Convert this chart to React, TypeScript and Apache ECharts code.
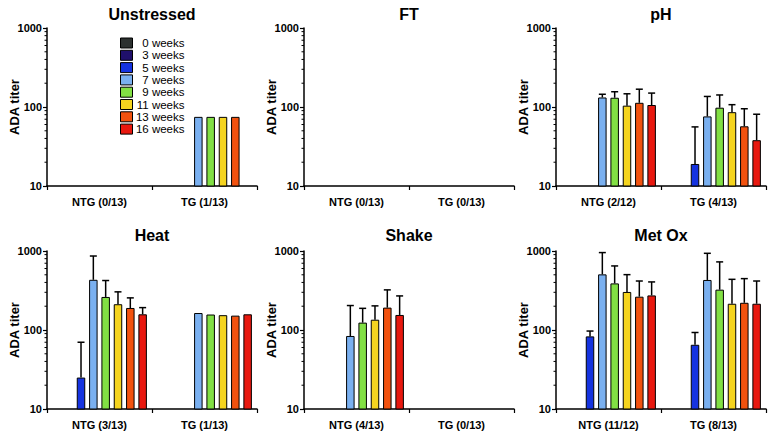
import React, { useEffect, useRef } from "react";
import * as echarts from "echarts";

const WEEKS = ["0 weeks", "3 weeks", "5 weeks", "7 weeks", "9 weeks", "11 weeks", "13 weeks", "16 weeks"];
const COLORS = ["#2b302f", "#1f106b", "#1533e0", "#7ab0f0", "#82e044", "#f5d41f", "#f2520f", "#e8180f"];

const TITLES = ["Unstressed", "FT", "pH", "Heat", "Shake", "Met Ox"];
const CATEGORIES = [
  ["NTG (0/13)", "TG (1/13)"],
  ["NTG (0/13)", "TG (0/13)"],
  ["NTG (2/12)", "TG (4/13)"],
  ["NTG (3/13)", "TG (1/13)"],
  ["NTG (4/13)", "TG (0/13)"],
  ["NTG (11/12)", "TG (8/13)"],
];

type V = number | null;
// rows = weeks (0,3,5,7,9,11,13,16), columns = [NTG, TG]
const unstressedMean: V[][] = [[null, null], [null, null], [null, null], [null, 75], [null, 75], [null, 75], [null, 75], [null, null]];
const unstressedErr: V[][] = [[null, null], [null, null], [null, null], [null, null], [null, null], [null, null], [null, null], [null, null]];

const ftMean: V[][] = [[null, null], [null, null], [null, null], [null, null], [null, null], [null, null], [null, null], [null, null]];
const ftErr: V[][] = [[null, null], [null, null], [null, null], [null, null], [null, null], [null, null], [null, null], [null, null]];

const phMean: V[][] = [[null, null], [null, null], [null, 19], [132, 76], [131, 98], [104, 86], [113, 57], [106, 38]];
const phErr: V[][] = [[null, null], [null, null], [null, 56], [145, 136], [156, 142], [147, 107], [168, 95], [150, 81]];

const heatMean: V[][] = [[null, null], [null, null], [25, null], [432, 164], [262, 157], [212, 154], [190, 152], [158, 158]];
const heatErr: V[][] = [[null, null], [null, null], [70, null], [864, null], [423, null], [304, null], [255, null], [192, null]];

const shakeMean: V[][] = [[null, null], [null, null], [null, null], [84, null], [124, null], [135, null], [192, null], [155, null]];
const shakeErr: V[][] = [[null, null], [null, null], [null, null], [204, null], [188, null], [202, null], [322, null], [270, null]];

const metOxMean: V[][] = [[null, null], [null, null], [83, 65], [506, 430], [389, 324], [303, 215], [264, 221], [274, 215]];
const metOxErr: V[][] = [[null, null], [null, null], [97, 93], [955, 935], [647, 728], [502, 438], [417, 447], [406, 417]];

const MEANS = [unstressedMean, ftMean, phMean, heatMean, shakeMean, metOxMean];
const ERRS = [unstressedErr, ftErr, phErr, heatErr, shakeErr, metOxErr];

const MINOR_TICKS = [20, 30, 40, 50, 60, 70, 80, 90, 200, 300, 400, 500, 600, 700, 800, 900];

// layout
const GRID_LEFT = [47, 304, 556];
const GRID_TOP = [28, 251];
const TITLE_TOP = [6, 227];
const GRID_W = 210;
const GRID_H = 158;
const BAR_W = 8.5;
const BAR_GAP = 0.45;
const SLOT = BAR_W * (1 + BAR_GAP);
const FONT = "'Liberation Sans', Arial, Helvetica, sans-serif";

export default function App() {
  const ref = useRef<HTMLDivElement>(null);
  useEffect(() => {
    if (!ref.current) return;
    const chart = echarts.init(ref.current, null, { renderer: "svg" });
    const grids: any[] = [];
    const xAxes: any[] = [];
    const yAxes: any[] = [];
    const titles: any[] = [];
    const series: any[] = [];
    for (let p = 0; p < 6; p++) {
      const col = p % 3;
      const row = Math.floor(p / 3);
      const left = GRID_LEFT[col];
      const top = GRID_TOP[row];
      grids.push({ left, top, width: GRID_W, height: GRID_H, containLabel: false });
      titles.push({
        text: TITLES[p],
        left: left + GRID_W / 2,
        top: TITLE_TOP[row],
        textAlign: "center",
        padding: 0,
        textStyle: { fontFamily: FONT, fontWeight: "bold", fontSize: 16, color: "#000" },
      });
      xAxes.push({
        type: "category",
        gridIndex: p,
        data: CATEGORIES[p],
        axisLine: { lineStyle: { color: "#000", width: 1.5 } },
        axisTick: { show: true, length: 4, interval: 0, lineStyle: { color: "#000", width: 1.2 } },
        axisLabel: { fontFamily: FONT, fontWeight: "bold", fontSize: 11, color: "#000", margin: 10 },
        splitLine: { show: false },
      });
      yAxes.push({
        type: "log",
        logBase: 10,
        gridIndex: p,
        min: 10,
        max: 1000,
        name: "ADA titer",
        nameLocation: "middle",
        nameGap: 26,
        nameMoveOverlap: false,
        nameTextStyle: { fontFamily: FONT, fontWeight: "bold", fontSize: 13, color: "#000" },
        axisLine: { show: true, lineStyle: { color: "#000", width: 1.5 } },
        axisTick: { show: true, length: 4, lineStyle: { color: "#000", width: 1.2 } },
        axisLabel: {
          fontFamily: FONT,
          fontWeight: "bold",
          fontSize: 11,
          color: "#000",
          margin: 5,
          formatter: (v: number) => String(Math.round(v)),
        },
        splitLine: { show: false },
      });
      const mean = MEANS[p];
      const err = ERRS[p];
      for (let s = 0; s < WEEKS.length; s++) {
        series.push({
          type: "bar",
          name: WEEKS[s],
          xAxisIndex: p,
          yAxisIndex: p,
          data: mean[s],
          barWidth: BAR_W,
          barGap: `${BAR_GAP * 100}%`,
          clip: true,
          itemStyle: { color: COLORS[s], borderColor: "#000", borderWidth: 1 },
          emphasis: { disabled: true },
        });
      }
      const errData: number[][] = [];
      for (let s = 0; s < WEEKS.length; s++) {
        for (let c = 0; c < 2; c++) {
          const m = mean[s][c];
          const e = err[s][c];
          if (m != null && e != null) errData.push([c, s, m, e]);
        }
      }
      series.push({
        type: "custom",
        name: "err" + p,
        xAxisIndex: p,
        yAxisIndex: p,
        data: errData,
        encode: { x: 0, y: 3 },
        z: 5,
        silent: true,
        renderItem: (params: any, api: any) => {
          const c = api.value(0);
          const s = api.value(1);
          const p0 = api.coord([c, api.value(2)]);
          const p1 = api.coord([c, api.value(3)]);
          const x = p0[0] + (s - 3.5) * SLOT;
          return {
            type: "group",
            children: [
              { type: "line", shape: { x1: x, y1: p0[1], x2: x, y2: p1[1] }, style: { stroke: "#000", lineWidth: 1.5 } },
              { type: "line", shape: { x1: x - 3.5, y1: p1[1], x2: x + 3.5, y2: p1[1] }, style: { stroke: "#000", lineWidth: 1.5 } },
            ],
          };
        },
      });
      series.push({
        type: "custom",
        name: "minor" + p,
        xAxisIndex: p,
        yAxisIndex: p,
        data: MINOR_TICKS.map((v) => [0, v]),
        encode: { x: 0, y: 1 },
        silent: true,
        clip: false,
        renderItem: (params: any, api: any) => {
          const pt = api.coord([0, api.value(1)]);
          const x = params.coordSys.x;
          return {
            type: "line",
            shape: { x1: x - 2.5, y1: pt[1], x2: x, y2: pt[1] },
            style: { stroke: "#000", lineWidth: 1 },
          };
        },
      });
    }
    chart.setOption({
      animation: false,
      backgroundColor: "#fff",
      textStyle: { fontFamily: FONT },
      title: titles,
      grid: grids,
      xAxis: xAxes,
      yAxis: yAxes,
      legend: {
        data: WEEKS,
        orient: "vertical",
        left: 120,
        top: 37,
        padding: 0,
        itemWidth: 12,
        itemHeight: 10,
        itemGap: 0.3,
        icon: "rect",
        selectedMode: false,
        itemStyle: { borderColor: "#000", borderWidth: 1 },
        formatter: (n: string) => `{r|${n}}`,
        textStyle: {
          fontFamily: FONT,
          fontSize: 11.5,
          lineHeight: 12,
          color: "#000",
          rich: { r: { width: 47, height: 12, lineHeight: 12, align: "right", fontFamily: FONT, fontSize: 11.5, color: "#000" } },
        },
      },
      series,
    });
    return () => chart.dispose();
  }, []);
  return <div ref={ref} style={{ position: "fixed", left: 0, top: 0, width: 780, height: 436 }} />;
}
